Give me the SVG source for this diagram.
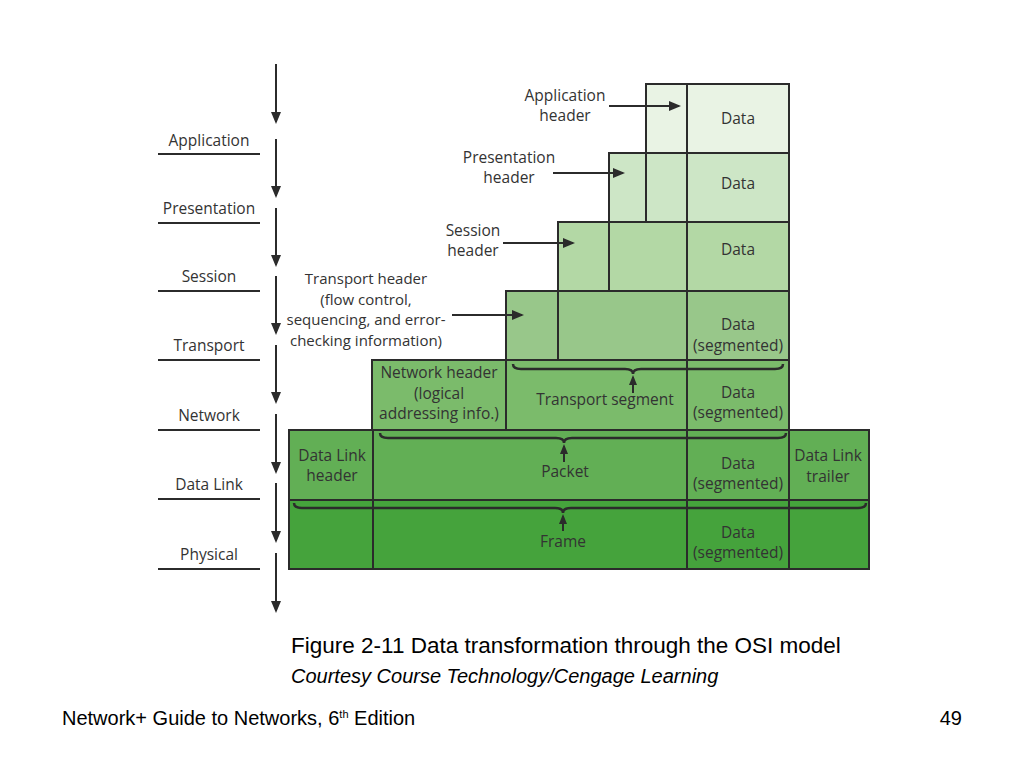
<svg xmlns="http://www.w3.org/2000/svg" width="1024" height="768" viewBox="0 0 1024 768">
<style>
.c{stroke:#2b2b2b;stroke-width:2}
.t{font-family:"Open Sans","Noto Sans","DejaVu Sans",sans-serif;font-size:15.5px;fill:#333;text-anchor:middle}
.tl{font-family:"Open Sans","Noto Sans","DejaVu Sans",sans-serif;font-size:15.5px;fill:#333;text-anchor:middle}
.ts{font-size:15px}
.ln{stroke:#2b2b2b;stroke-width:2;fill:none}
.br{stroke:#2b2b2b;stroke-width:2.5;fill:none}
.r1{fill:#e9f3e4}.r2{fill:#cde6c6}.r3{fill:#b3d8a5}.r4{fill:#98c78a}.r5{fill:#7bbb6b}.r6{fill:#62af55}.r7{fill:#45a33c}
.cap{font-family:"Liberation Sans",Arial,sans-serif;fill:#000}
</style>
<defs>
<marker id="ah" viewBox="0 0 12 10" refX="10" refY="5" markerWidth="12" markerHeight="10" markerUnits="userSpaceOnUse" orient="auto">
<path d="M0,0 L12,5 L0,10 z" fill="#2b2b2b"/>
</marker>
<marker id="ahs" viewBox="0 0 10 8" refX="8" refY="4" markerWidth="10" markerHeight="8" markerUnits="userSpaceOnUse" orient="auto">
<path d="M0,0 L10,4 L0,8 z" fill="#2b2b2b"/>
</marker>
</defs>

<!-- layer labels -->
<g id="layer-application"><text class="tl" x="209" y="146">Application</text><line class="ln" x1="158" y1="154" x2="260" y2="154"/></g>
<g id="layer-presentation"><text class="tl" x="209" y="214">Presentation</text><line class="ln" x1="158" y1="223" x2="260" y2="223"/></g>
<g id="layer-session"><text class="tl" x="209" y="282">Session</text><line class="ln" x1="158" y1="291" x2="260" y2="291"/></g>
<g id="layer-transport"><text class="tl" x="209" y="351">Transport</text><line class="ln" x1="158" y1="360" x2="260" y2="360"/></g>
<g id="layer-network"><text class="tl" x="209" y="421">Network</text><line class="ln" x1="158" y1="430" x2="260" y2="430"/></g>
<g id="layer-datalink"><text class="tl" x="209" y="490">Data Link</text><line class="ln" x1="158" y1="499" x2="260" y2="499"/></g>
<g id="layer-physical"><text class="tl" x="209" y="560">Physical</text><line class="ln" x1="158" y1="569" x2="260" y2="569"/></g>

<!-- Application row -->
<g id="app-header"><rect class="c r1" x="646" y="84" width="41" height="69"/></g>
<g id="app-data"><rect class="c r1" x="687" y="84" width="102" height="69"/><text class="t" x="738" y="124">Data</text></g>

<!-- Presentation row -->
<g id="pres-header"><rect class="c r2" x="609" y="153" width="37" height="69"/></g>
<g id="pres-app"><rect class="c r2" x="646" y="153" width="41" height="69"/></g>
<g id="pres-data"><rect class="c r2" x="687" y="153" width="102" height="69"/><text class="t" x="738" y="189">Data</text></g>

<!-- Session row -->
<g id="sess-header"><rect class="c r3" x="558" y="222" width="51" height="69"/></g>
<g id="sess-upper"><rect class="c r3" x="609" y="222" width="78" height="69"/></g>
<g id="sess-data"><rect class="c r3" x="687" y="222" width="102" height="69"/><text class="t" x="738" y="255">Data</text></g>

<!-- Transport row -->
<g id="trans-header"><rect class="c r4" x="506" y="291" width="52" height="69"/></g>
<g id="trans-upper"><rect class="c r4" x="558" y="291" width="129" height="69"/></g>
<g id="trans-data"><rect class="c r4" x="687" y="291" width="102" height="69"/><text class="t" x="738" y="330">Data</text><text class="t" x="738" y="351">(segmented)</text></g>

<!-- Network row -->
<g id="net-header"><rect class="c r5" x="372" y="360" width="134" height="70"/><text class="t" x="439" y="378">Network header</text><text class="t" x="439" y="399">(logical</text><text class="t" x="439" y="419">addressing info.)</text></g>
<g id="net-segment"><rect class="c r5" x="506" y="360" width="181" height="70"/><text class="t" x="605" y="405">Transport segment</text></g>
<g id="net-data"><rect class="c r5" x="687" y="360" width="102" height="70"/><text class="t" x="738" y="398">Data</text><text class="t" x="738" y="418">(segmented)</text></g>

<!-- Data Link row -->
<g id="dl-header"><rect class="c r6" x="289" y="430" width="84" height="70"/><text class="t" x="332" y="461">Data Link</text><text class="t" x="332" y="481">header</text></g>
<g id="dl-packet"><rect class="c r6" x="373" y="430" width="314" height="70"/><text class="t" x="565" y="477">Packet</text></g>
<g id="dl-data"><rect class="c r6" x="687" y="430" width="102" height="70"/><text class="t" x="738" y="469">Data</text><text class="t" x="738" y="489">(segmented)</text></g>
<g id="dl-trailer"><rect class="c r6" x="789" y="430" width="80" height="70"/><text class="t" x="828" y="461">Data Link</text><text class="t" x="828" y="482">trailer</text></g>

<!-- Physical row -->
<g id="ph-left"><rect class="c r7" x="289" y="500" width="84" height="69"/></g>
<g id="ph-frame"><rect class="c r7" x="373" y="500" width="314" height="69"/><text class="t" x="563" y="547">Frame</text></g>
<g id="ph-data"><rect class="c r7" x="687" y="500" width="102" height="69"/><text class="t" x="738" y="538">Data</text><text class="t" x="738" y="558">(segmented)</text></g>
<g id="ph-right"><rect class="c r7" x="789" y="500" width="80" height="69"/></g>

<!-- header labels -->
<g id="lbl-app-header"><text class="t" x="565" y="101">Application</text><text class="t" x="565" y="121">header</text></g>
<g id="lbl-pres-header"><text class="t" x="509" y="163">Presentation</text><text class="t" x="509" y="183">header</text></g>
<g id="lbl-sess-header"><text class="t" x="473" y="236">Session</text><text class="t" x="473" y="256">header</text></g>
<g id="lbl-trans-header"><text class="t ts" x="366" y="284">Transport header</text><text class="t ts" x="366" y="304.7">(flow control,</text><text class="t ts" x="366" y="325.4">sequencing, and error-</text><text class="t ts" x="366" y="346">checking information)</text></g>

<!-- connectors -->
<g id="connectors">
<line class="ln" x1="276" y1="64" x2="276" y2="122" marker-end="url(#ah)"/>
<line class="ln" x1="276" y1="139" x2="276" y2="196" marker-end="url(#ah)"/>
<line class="ln" x1="276" y1="208" x2="276" y2="265" marker-end="url(#ah)"/>
<line class="ln" x1="276" y1="276" x2="276" y2="333" marker-end="url(#ah)"/>
<line class="ln" x1="276" y1="345" x2="276" y2="402" marker-end="url(#ah)"/>
<line class="ln" x1="276" y1="414" x2="276" y2="472" marker-end="url(#ah)"/>
<line class="ln" x1="276" y1="483" x2="276" y2="541" marker-end="url(#ah)"/>
<line class="ln" x1="276" y1="553" x2="276" y2="611" marker-end="url(#ah)"/>

<line class="ln" x1="609" y1="106" x2="679" y2="106" marker-end="url(#ah)"/>
<line class="ln" x1="553" y1="173" x2="623" y2="173" marker-end="url(#ah)"/>
<line class="ln" x1="503" y1="243" x2="573" y2="243" marker-end="url(#ah)"/>
<line class="ln" x1="452" y1="315" x2="522" y2="315" marker-end="url(#ah)"/>

<path class="br" d="M513,364 Q513,369 521,369 L625,369 Q633,369 633,374 Q633,369 641,369 L775,369 Q783,369 783,364"/>
<line class="ln" x1="633" y1="393" x2="633" y2="377" marker-end="url(#ahs)"/>
<path class="br" d="M380,433 Q380,438 388,438 L556,438 Q564,438 564,443 Q564,438 572,438 L778,438 Q786,438 786,433"/>
<line class="ln" x1="564" y1="462" x2="564" y2="446" marker-end="url(#ahs)"/>
<path class="br" d="M294,503 Q294,508 302,508 L555,508 Q563,508 563,513 Q563,508 571,508 L858,508 Q866,508 866,503"/>
<line class="ln" x1="563" y1="531" x2="563" y2="516" marker-end="url(#ahs)"/>
</g>

<!-- captions -->
<text class="cap" x="291" y="653" font-size="22.5">Figure 2-11 Data transformation through the OSI model</text>
<text class="cap" x="291" y="683" font-size="20" font-style="italic">Courtesy Course Technology/Cengage Learning</text>
<text class="cap" x="62" y="725" font-size="20">Network+ Guide to Networks, 6<tspan font-size="11" dy="-7">th</tspan><tspan dy="7"> Edition</tspan></text>
<text class="cap" x="962" y="725" font-size="20" text-anchor="end">49</text>
</svg>
